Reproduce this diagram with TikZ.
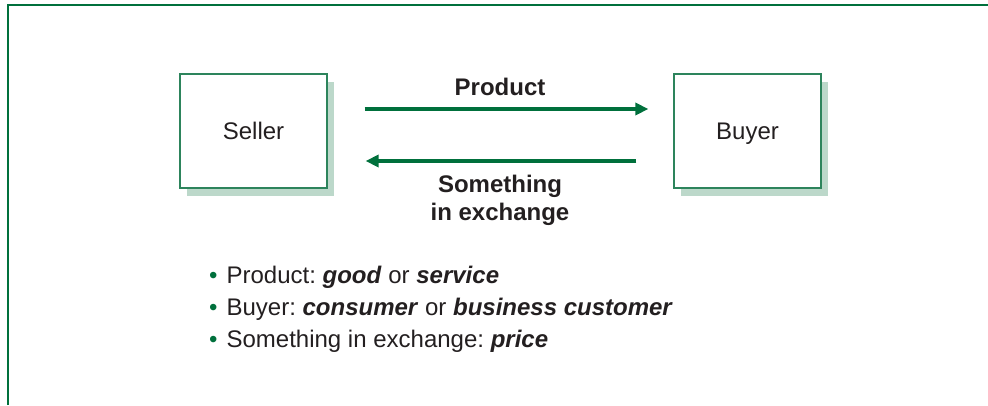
\documentclass[tikz,border=0pt]{standalone}
\usepackage{fontspec}
\setmainfont{Liberation Sans}
\usepackage{tikz}
\usetikzlibrary{arrows.meta,shadows,positioning}
\frenchspacing
\definecolor{arrowgreen}{RGB}{0,112,60}
\definecolor{boxgreen}{RGB}{45,132,92}
\definecolor{shadegreen}{RGB}{188,216,202}
\definecolor{inkgray}{RGB}{35,31,32}
\tikzset{
  party/.style={draw=boxgreen, line width=1.2pt, fill=white, minimum width=147pt, minimum height=114pt,
    inner sep=0pt, text depth=0pt, text=inkgray, font=\fontsize{24}{29}\selectfont,
    drop shadow={shadow xshift=7pt, shadow yshift=-8pt, fill=shadegreen, opacity=1}},
  flow/.style={arrowgreen, line width=4pt, -{Triangle[length=13pt,width=12pt]}},
  flowlabel/.style={text=inkgray, font=\bfseries\fontsize{24}{28}\selectfont, align=center, inner sep=0pt},
  point/.style={anchor=base west, inner sep=0pt, text=inkgray, font=\fontsize{24}{29}\selectfont}
}
\newcommand{\dotmark}{{\color{arrowgreen}\textbullet}\hspace{9pt}}
\newcommand{\keyword}[1]{\textbf{\textit{#1}}}

\begin{document}
\begin{tikzpicture}[x=1pt, y=-1pt]
  \useasboundingbox (0,0) rectangle (988,405);
  % outer frame
  \draw[arrowgreen, line width=1.6pt] (8,405) -- (8,5) -- (988,5);

  \node[party] (seller) at (253.5,131) {Seller};
  \node[party] (buyer) at (747.5,131) {Buyer};

  % exchange arrows
  \draw[flow] ([xshift=37pt,yshift=22pt]seller.east) -- ([xshift=-25pt,yshift=22pt]buyer.west);
  \draw[flow] ([xshift=-37pt,yshift=-30pt]buyer.west) -- ([xshift=38pt,yshift=-30pt]seller.east);
  \node[flowlabel] (product) at (500,87) {Product};
  \node[flowlabel] (payment) at (500,200) {Something\\in exchange};

  % notes
  \node[point] (note1) at (209,283) {\dotmark Product: \keyword{good} or \keyword{service}};
  \node[point] (note2) at (209,315) {\dotmark Buyer: \keyword{consumer} or \keyword{business customer}};
  \node[point] (note3) at (209,347) {\dotmark Something in exchange: \keyword{price}};
\end{tikzpicture}
\end{document}
